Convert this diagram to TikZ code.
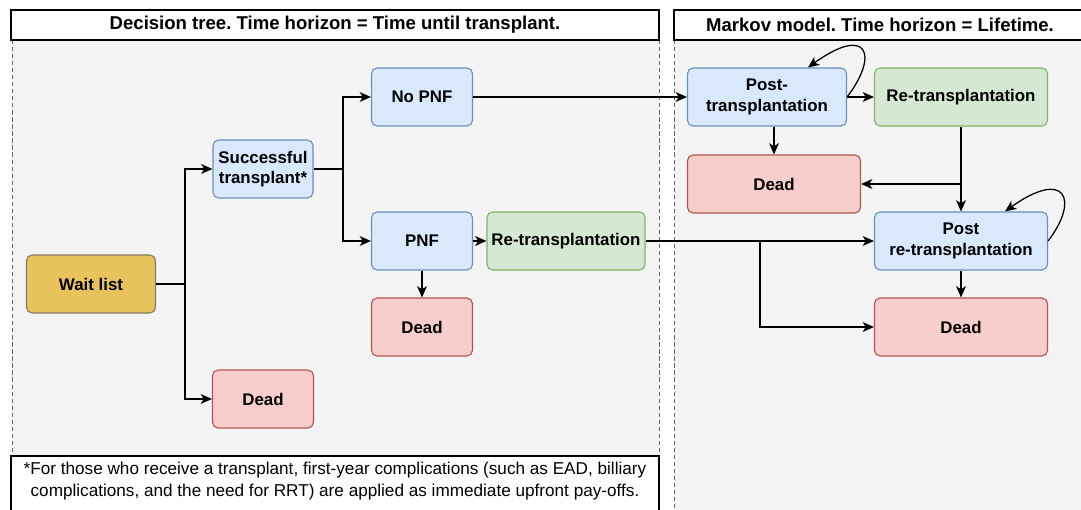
\documentclass[tikz,border=0pt]{standalone}
\usepackage{fontspec}
\setmainfont{Liberation Sans}
\frenchspacing
\usetikzlibrary{arrows.meta}
\definecolor{bluefill}{HTML}{DAE8FC}
\definecolor{bluedraw}{HTML}{6C8EBF}
\definecolor{greenfill}{HTML}{D5E8D4}
\definecolor{greendraw}{HTML}{82B366}
\definecolor{redfill}{HTML}{F8CECC}
\definecolor{reddraw}{HTML}{B85450}
\definecolor{waitfill}{HTML}{E8C35B}
\definecolor{waitdraw}{HTML}{857C66}
\definecolor{panelgrey}{HTML}{F4F4F4}
\definecolor{dashgrey}{HTML}{666666}
\tikzset{
  box/.style={draw,rounded corners=4pt,line width=0.8pt,align=center,inner sep=0pt,
    minimum height=1.45cm,font=\fontsize{12}{14.5}\selectfont\bfseries},
  bluebox/.style={box,fill=bluefill,draw=bluedraw},
  greenbox/.style={box,fill=greenfill,draw=greendraw},
  redbox/.style={box,fill=redfill,draw=reddraw},
  waitbox/.style={box,fill=waitfill,draw=waitdraw},
  header/.style={draw=black,fill=white,line width=1pt,minimum height=0.75cm,inner sep=0pt,
    font=\fontsize{13.2}{14}\selectfont\bfseries},
  arr/.style={-{Stealth[length=8pt,width=7pt,inset=2.2pt]},line width=0.9pt},
  panelline/.style={dashgrey,dashed,dash pattern=on 3pt off 2pt,line width=0.5pt}
}
\begin{document}
\begin{tikzpicture}[x=0.025cm,y=-0.025cm]
\clip (0,0) rectangle (1081,510);
\fill[white] (0,0) rectangle (1081,510);
% panels
\fill[panelgrey] (12,40) rectangle (659,520);
\fill[panelgrey] (674,40) rectangle (1090,520);
\draw[panelline] (12,40) -- (12,520);
\draw[panelline] (659,40) -- (659,520);
\draw[panelline] (674,40) -- (674,520);
\node[header,minimum width=16.2cm] (dthead) at (335,25) {Decision tree. Time horizon = Time until transplant.};
\node[header,minimum width=10.3cm] (mmhead) at (880,25) {Markov model. Time horizon = Lifetime.};
% footnote
\draw[black,fill=white,line width=1pt] (11,456) rectangle (659,530);
\node[align=center,inner sep=0pt,font=\fontsize{12.2}{15.5}\selectfont] (note) at (335,481)
  {*For those who receive a transplant, first-year complications (such as EAD, billiary\\ complications, and the need for RRT) are applied as immediate upfront pay-offs.};
% decision tree
\node[waitbox,minimum width=3.225cm] (wait) at (91,284) {Wait list};
\node[bluebox,minimum width=2.5cm] (succ) at (263,169) {Successful\\transplant*};
\node[redbox,minimum width=2.525cm] (deadA) at (263,399) {Dead};
\node[bluebox,minimum width=2.525cm] (nopnf) at (422,97) {No PNF};
\node[bluebox,minimum width=2.525cm] (pnf) at (422,241) {PNF};
\node[greenbox,minimum width=3.95cm] (retxA) at (566,241) {Re-transplantation};
\node[redbox,minimum width=2.525cm] (deadB) at (422,327) {Dead};
% markov model
\node[bluebox,minimum width=3.975cm] (posttx) at (767,97) {Post-\\transplantation};
\node[greenbox,minimum width=4.325cm] (retxB) at (961,97) {Re-transplantation};
\node[redbox,minimum width=4.325cm] (deadC) at (774,184) {Dead};
\node[bluebox,minimum width=4.325cm] (postretx) at (961,241) {Post\\re-transplantation};
\node[redbox,minimum width=4.325cm] (deadD) at (961,327) {Dead};
% junctions
\coordinate (j1) at (185,284);
\coordinate (j2) at (343,169);
\coordinate (j3) at (760,241);
\coordinate (j4) at (961,184);
% connectors
\draw[line width=0.9pt] (wait) -- (j1);
\draw[arr] (j1) |- (succ);
\draw[arr] (j1) |- (deadA);
\draw[line width=0.9pt] (succ) -- (j2);
\draw[arr] (j2) |- (nopnf);
\draw[arr] (j2) |- (pnf);
\draw[arr] (nopnf) -- (posttx);
\draw[arr] (pnf) -- (retxA);
\draw[arr] (pnf) -- (deadB);
\draw[arr] (retxA) -- (postretx);
\draw[arr] (j3) |- (deadD);
\draw[arr] (posttx) -- (retxB);
\draw[arr] (deadC.north |- posttx.south) -- (deadC.north);
\draw[arr] (retxB) -- (postretx);
\draw[arr] (j4) -- (deadC.east);
\draw[arr] (postretx) -- (deadD);
% self loops
\draw[arr] (posttx.east) .. controls +(32,-42) and +(60,-43) .. ([xshift=1.025cm]posttx.north);
\draw[arr] (postretx.east) .. controls +(32,-42) and +(60,-43) .. ([xshift=1.1cm]postretx.north);
\end{tikzpicture}
\end{document}
